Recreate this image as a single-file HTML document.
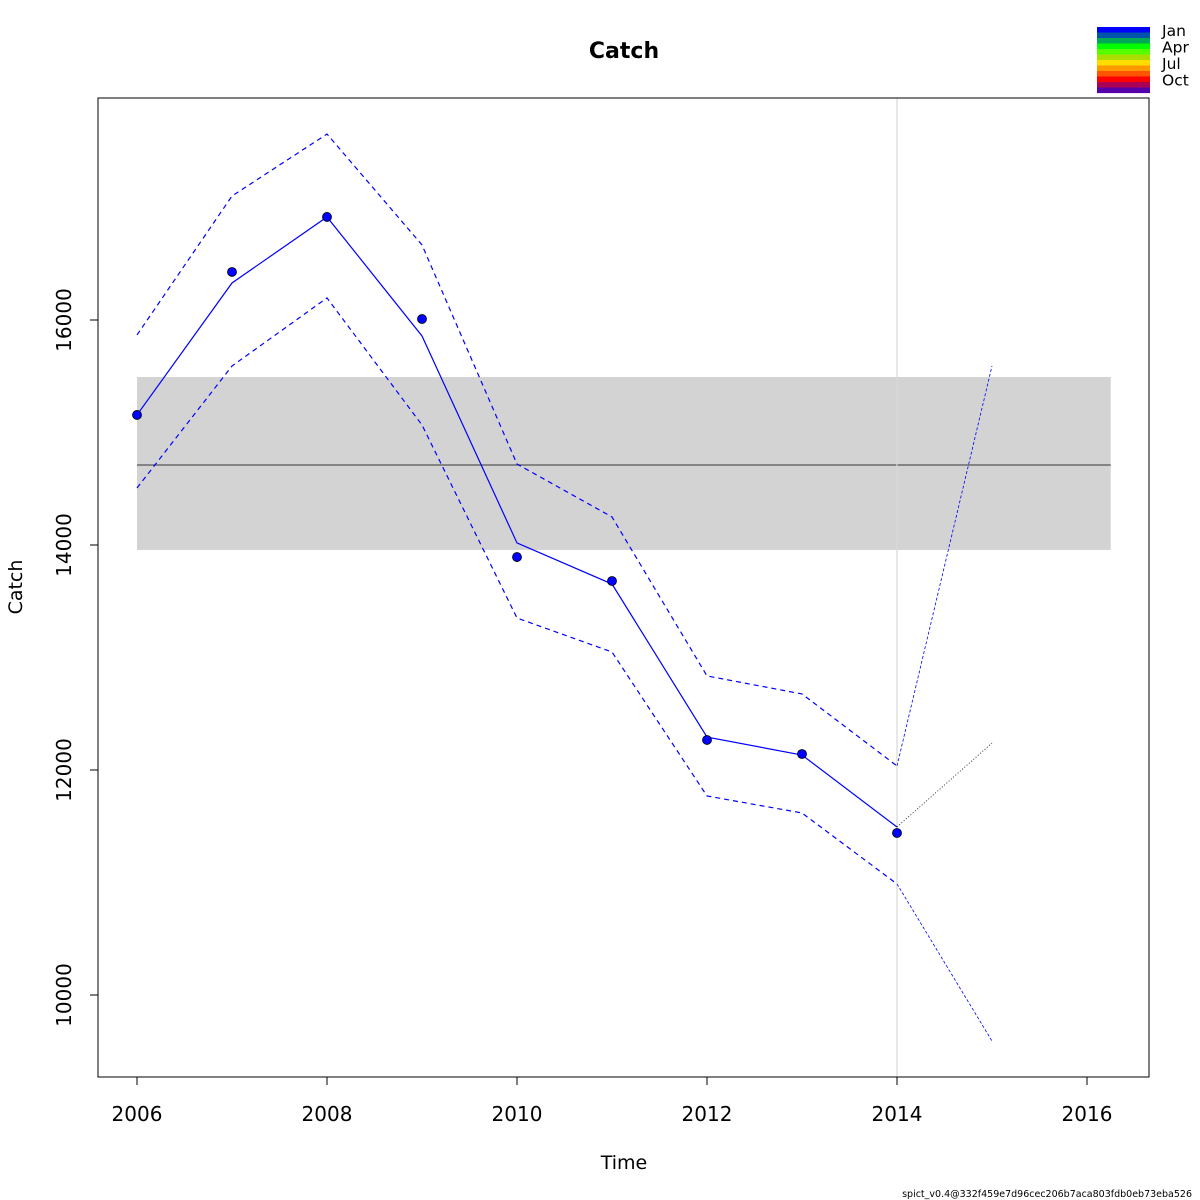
<!DOCTYPE html>
<html><head><meta charset="utf-8"><style>body{margin:0;background:#fff}svg{display:block;font-family:"DejaVu Sans","Liberation Sans",sans-serif}</style></head>
<body>
<svg id="c" width="1200" height="1200">
<text x="624" y="58" text-anchor="middle" font-size="22" font-weight="bold">Catch</text>
<text x="624" y="1169" text-anchor="middle" font-size="19">Time</text>
<text transform="translate(22,587) rotate(-90)" text-anchor="middle" font-size="19">Catch</text>
<text x="1192" y="1197" text-anchor="end" font-size="9.5">spict_v0.4@332f459e7d96cec206b7aca803fdb0eb73eba526</text>
<g id="legend"></g>
<g id="plot"></g>
<rect x="98" y="98" width="1051" height="979" fill="none" stroke="#000" stroke-width="1"/>
</svg>
<script>
const years=[2006,2007,2008,2009,2010,2011,2012,2013,2014];
const observed=[15156,16427,16916,16009,13893,13680,12267,12142,11440];
const fitted=[15156,16329,16916,15858,14018,13653,12293,12133,11493];
const upper=[15867,17102,17653,16667,14720,14249,12836,12676,12036];
const lower=[14507,15591,16196,15067,13351,13049,11769,11618,10987];
const predYears=[2014,2015];
const predFit=[11493,12240];
const predUpper=[12036,15591];
const predLower=[10987,9591];
const refMean=14711, refLow=13956, refHigh=15493, refEnd=2016.25;
const xTicks=[2006,2008,2010,2012,2014,2016];
const yTicks=[10000,12000,14000,16000];
const monthLabels=["Jan","Apr","Jul","Oct"];
const monthColors=["#0000ff","#0055aa","#00aa55","#00ff00","#55ff00","#aadd00","#ffdd00","#ff9900","#ff5500","#ff0000","#aa0055","#5500aa"];
const X=v=>137+(v-2006)*95;
const Y=v=>320+(16000-v)*0.1125;
const NS="http://www.w3.org/2000/svg";
const plot=document.getElementById('plot');
function mk(tag,attrs,parent){const e=document.createElementNS(NS,tag);for(const k in attrs)e.setAttribute(k,attrs[k]);(parent||plot).appendChild(e);return e;}
function pts(xs,ys){return xs.map((x,i)=>X(x)+','+Y(ys[i])).join(' ');}
let e;
e=mk('rect',{x:X(2006),y:Y(refHigh),width:X(refEnd)-X(2006),height:Y(refLow)-Y(refHigh),fill:'#d3d3d3'});


e=mk('line',{x1:X(2006),x2:X(refEnd),y1:Y(refMean),y2:Y(refMean),stroke:'#555','stroke-width':1.2});


e=mk('line',{x1:X(2014),x2:X(2014),y1:98,y2:1077,stroke:'#d8d8d8','stroke-width':1.2});


e=mk('polyline',{points:pts(years,upper),fill:'none',stroke:'#0000ff','stroke-width':1.2,'stroke-dasharray':'5,4'});


e=mk('polyline',{points:pts(years,lower),fill:'none',stroke:'#0000ff','stroke-width':1.2,'stroke-dasharray':'5,4'});


e=mk('polyline',{points:pts(years,fitted),fill:'none',stroke:'#0000ff','stroke-width':1.2});


e=mk('polyline',{points:pts(predYears,predUpper),fill:'none',stroke:'#0000ff','stroke-width':0.8,'stroke-dasharray':'3,2'});


e=mk('polyline',{points:pts(predYears,predLower),fill:'none',stroke:'#0000ff','stroke-width':0.8,'stroke-dasharray':'3,2'});


e=mk('polyline',{points:pts(predYears,predFit),fill:'none',stroke:'#000','stroke-width':0.8,'stroke-dasharray':'1,2'});


years.forEach((y,i)=>{
 const c=mk('circle',{cx:X(y),cy:Y(observed[i]),r:4.5,fill:'#0000ff',stroke:'#000','stroke-width':0.8});
 
 
});
xTicks.forEach(t=>{
 const l=mk('line',{x1:X(t),x2:X(t),y1:1077,y2:1085,stroke:'#000'});
 
 
 const tx=mk('text',{x:X(t),y:1121,'text-anchor':'middle','font-size':20});
 tx.textContent=t;
 
 
});
yTicks.forEach(t=>{
 const l=mk('line',{x1:90,x2:98,y1:Y(t),y2:Y(t),stroke:'#000'});
 
 
 const tx=mk('text',{transform:`translate(71,${Y(t)}) rotate(-90)`,'text-anchor':'middle','font-size':20});
 tx.textContent=t;
 
 
});
const lg=document.getElementById('legend');
monthColors.forEach((c,i)=>{
 const r=mk('rect',{x:1097,y:27+i*5.5,width:53,height:5.6,fill:c},lg);
 
 
});
monthLabels.forEach((m,i)=>{
 const t=mk('text',{x:1162,y:36+i*16.5,'font-size':15.5},lg);
 t.textContent=m;
 
 
});
</script>
</body></html>
